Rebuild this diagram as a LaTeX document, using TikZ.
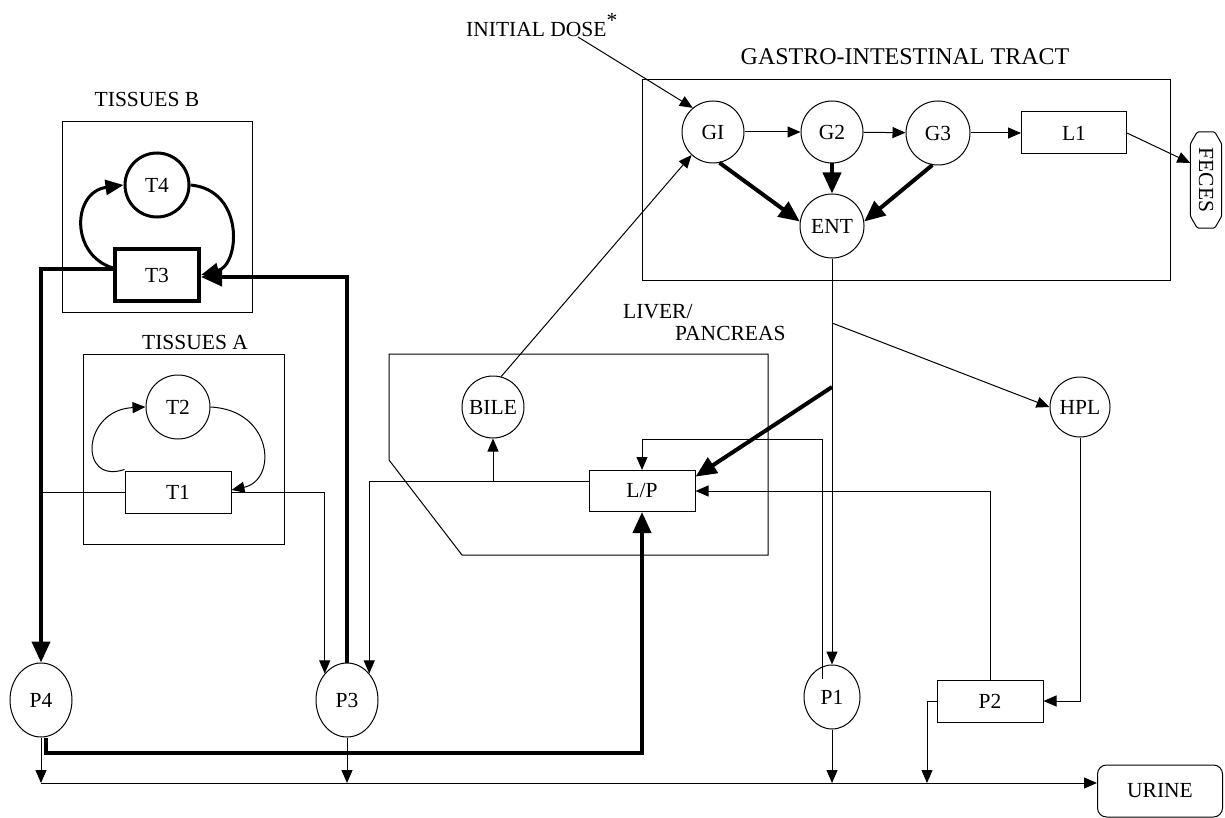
\documentclass[tikz,border=0pt]{standalone}
\usepackage{fontspec}
\setmainfont{Liberation Serif}
\usetikzlibrary{arrows.meta,shapes.geometric,shapes.misc,calc}
\newcommand{\myfs}{\fontsize{21.5}{25}\selectfont}
\begin{document}
\begin{tikzpicture}[x=1pt,y=-1pt,
  every node/.style={font=\myfs},
  frame/.style={rectangle, draw, line width=1pt, inner sep=0pt},
  circ/.style={circle, draw, line width=1pt, minimum size=62pt, inner sep=0pt},
  box/.style={rectangle, draw, line width=1pt, minimum width=106pt, minimum height=42pt, inner sep=0pt},
  ell/.style={ellipse, draw, line width=1pt, minimum width=62pt, minimum height=74pt, inner sep=0pt},
  thinarr/.style={line width=1pt, -{Triangle[length=13pt,width=11pt]}},
  thickarr/.style={line width=4pt, -{Triangle[length=21pt,width=18pt]}},
  plain/.style={line width=1pt},
  lbl/.style={inner sep=0pt}
]
\useasboundingbox (0,0) rectangle (1225,818);

% ---------- Tissues B ----------
\node[lbl] (labB) at (147,99) {TISSUES B};
\node[frame, minimum width=190pt, minimum height=190pt] (frB) at (157,217) {};
\node[circ, line width=3pt, minimum size=64pt] (T4) at (157,185) {T4};
\node[box, line width=4pt, minimum width=84pt, minimum height=51pt] (T3) at (157,275) {T3};
\draw[line width=3pt, -{Triangle[length=18pt,width=15pt]}] ([yshift=7pt]T3.west) .. controls (70,255) and (72,192) .. (T4.west);
\draw[line width=3pt, -{Triangle[length=18pt,width=15pt]}] (T4.east) .. controls (245,190) and (240,265) .. (T3.east);

% ---------- Tissues A ----------
\node[lbl] (labA) at (195,342) {TISSUES A};
\node[frame, minimum width=201pt, minimum height=190pt] (frA) at (183.5,449) {};
\node[circ, minimum size=64pt] (T2) at (178,407) {T2};
\node[box] (T1) at (178,492) {T1};
\draw[thinarr] ([yshift=1pt]T1.north west) .. controls (78,485) and (82,410) .. (T2.west);
\draw[thinarr] (T2.east) .. controls (273,410) and (278,480) .. ([yshift=2pt]T1.east);

% ---------- Gastro-intestinal tract ----------
\node[lbl, font=\fontsize{24}{28}\selectfont] (labGI) at (905,57) {GASTRO-INTESTINAL TRACT};
\node[frame, minimum width=528pt, minimum height=200pt] (frGI) at (906,180) {};
\node[lbl, anchor=west] (dose) at (466,25) {INITIAL DOSE\raisebox{9pt}{*}};
\coordinate (dosestart) at (578,37);
\node[circ] (GI) at (713,132) {GI};
\node[circ] (G2) at (832,132) {G2};
\node[circ, minimum size=64pt] (G3) at (938,133) {G3};
\node[box, minimum width=105pt] (L1) at (1074,133) {L1};
\node[circ, minimum size=64pt] (ENT) at (832,226) {ENT};
\node[inner sep=0pt, minimum width=31pt, minimum height=96pt] (FECES) at (1206,180) {\rotatebox{-90}{FECES}};
\draw[line width=1pt, rounded corners=1.5pt]
  ($(FECES.north west)+(0,12)$) -- ($(FECES.north west)+(7,0)$) -- ($(FECES.north east)+(-7,0)$) --
  ($(FECES.north east)+(0,12)$) -- ($(FECES.south east)+(0,-12)$) -- ($(FECES.south east)+(-7,0)$) --
  ($(FECES.south west)+(7,0)$) -- ($(FECES.south west)+(0,-12)$) -- cycle;

\draw[thinarr] (dosestart) -- (GI.130);
\draw[thinarr] (GI) -- (G2);
\draw[thinarr] (G2) -- (G3);
\draw[thinarr] (G3) -- (L1);
\draw[thinarr] (L1.east) -- ([yshift=17pt]FECES.west);
\draw[thickarr] (GI.-78) -- (ENT.172);
\draw[thickarr] (G2.south) -- (ENT.north);
\draw[thickarr] (G3.-100) -- (ENT.8);

% ---------- Liver / pancreas ----------
\node[lbl, anchor=west] (labL) at (623,312) {LIVER/};
\node[lbl, anchor=west] (labP) at (675,333) {PANCREAS};
\draw[plain] (389,354) -- (768,354) -- (768,555) -- (462,555) -- (389,460) -- cycle;
\node[circ] (BILE) at (493,407) {BILE};
\node[box, minimum height=41pt] (LP) at (642,491) {L/P};
\node[circ, minimum size=60pt] (HPL) at (1080,407) {HPL};

% ---------- P nodes ----------
\node[ell] (P4) at (41,700) {P4};
\node[ell] (P3) at (347,700) {P3};
\node[ell, minimum width=56pt, minimum height=64pt] (P1) at (832,697) {P1};
\node[box] (P2) at (990,701) {P2};
\node[rectangle, rounded corners=9pt, draw, line width=1pt, minimum width=125pt, minimum height=52pt] (URINE) at (1160,791) {URINE};

% ENT outflows
\coordinate (b1) at (832,323);
\coordinate (b2) at (832,387);
\draw[thinarr] (ENT.south) -- (P1.north);
\draw[thinarr] (b1) -- (HPL.west);
\draw[thickarr] (b2) -- (LP.15);

% L/P connections
\coordinate (lpw) at ([yshift=10pt]LP.west);
\draw[thinarr] (lpw) -| (P3.50);
\draw[thinarr] (BILE.south |- lpw) -- (BILE.south);
\draw[thinarr] (BILE.75) -- (GI.227);
\draw[thinarr] ([xshift=-10pt,yshift=-14pt]P1.north) |- (642,439) -- (LP.north);
\draw[thinarr] (P2.north) |- (LP.east);
\draw[thinarr] (HPL.south) |- (P2.east);

% tissue connections
\draw[plain] (T1.west) -- (P4.north |- T1.west);
\draw[thinarr] (T1.east) -| (P3.130);
\draw[thickarr] ([yshift=6pt]T3.west) -| (P4.north);
\draw[thickarr] (P3.north) |- ([yshift=-2pt]T3.east);
\draw[thickarr] ([xshift=5pt]P4.south) -- ++(0,15) -| (LP.south);

% urine collection
\coordinate (u0) at (41,783);
\coordinate (u2) at (927,783);
\draw[thinarr] (u0) -- (URINE.west |- u0);
\draw[thinarr] (P4.south) -- (P4.south |- u0);
\draw[thinarr] (P3.south) -- (P3.south |- u0);
\draw[thinarr] (P1.south) -- (P1.south |- u0);
\draw[thinarr] (P2.west) -| (u2);
\end{tikzpicture}
\end{document}
